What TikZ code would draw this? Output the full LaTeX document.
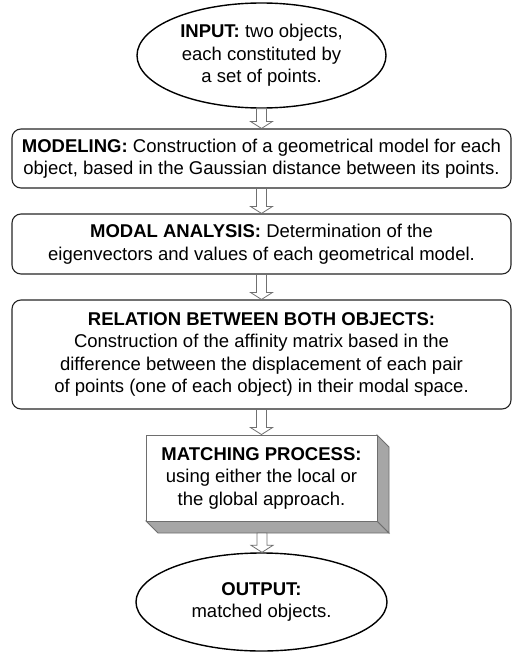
\documentclass[tikz,border=0pt]{standalone}
\usepackage{fontspec}
\setmainfont{Liberation Sans}
\usetikzlibrary{shapes.geometric,calc}
\definecolor{arrowgray}{HTML}{707070}
\definecolor{sidegray}{HTML}{A6A6A6}
\definecolor{edgegray}{HTML}{6E6E6E}
\tikzset{
  txt/.style={align=center, font=\fontsize{18.5}{22.5}\selectfont, inner sep=0pt, text=black},
  oval/.style={txt, ellipse, draw=black, line width=1.4pt, fill=white},
  roundbox/.style={txt, rectangle, rounded corners=9pt, draw=black!85, line width=1.1pt, fill=white, minimum width=499pt},
  frontface/.style={txt, rectangle, draw=edgegray, line width=0.9pt, fill=white},
}
\newcommand\blockarr[2]{%
  \path let \p1=(#1), \p2=(#2) in
    [draw=arrowgray, line width=0.8pt, fill=white]
    (\x1-5pt,\y1) -- (\x1-5pt,\y2+7pt) -- (\x1-11pt,\y2+7pt) -- (\x1,\y2)
    -- (\x1+11pt,\y2+7pt) -- (\x1+5pt,\y2+7pt) -- (\x1+5pt,\y1) -- cycle;}
\begin{document}
\begin{tikzpicture}[x=1pt,y=-1pt]
\useasboundingbox (0,0) rectangle (514,653);
% input
\node[oval, minimum width=249pt, minimum height=105pt] (in) at (261.5,55.5)
  {\textbf{INPUT:} two objects,\\each constituted by\\a set of points.};
% modeling
\node[roundbox, minimum height=59pt] (model) at (261.5,158.5)
  {\textbf{MODELING:} Construction of a geometrical model for each\\object, based in the Gaussian distance between its points.};
% modal
\node[roundbox, minimum height=60pt] (modal) at (261.5,244)
  {\textbf{MODAL ANALYSIS:} Determination of the\\eigenvectors and values of each geometrical model.};
% relation
\node[roundbox, minimum height=109pt] (rel) at (261.5,354.5)
  {\textbf{RELATION BETWEEN BOTH OBJECTS:}\\Construction of the affinity matrix based in the\\difference between the displacement of each pair\\of points (one of each object) in their modal space.};
% matching 3D box
\fill[sidegray, draw=edgegray, line width=0.9pt] (146,521) -- (158,533) -- (389,533) -- (377,521) -- cycle;
\fill[sidegray, draw=edgegray, line width=0.9pt] (377,435) -- (389,447) -- (389,533) -- (377,521) -- cycle;
\node[frontface, minimum width=231pt, minimum height=86pt] (match) at (261.5,478)
  {\textbf{MATCHING PROCESS:}\\using either the local or\\the global approach.};
\coordinate (matchbot) at (262,533);
% output
\node[oval, minimum width=251pt, minimum height=98pt] (out) at (261.5,602)
  {\textbf{OUTPUT:}\\matched objects.};
% arrows
\blockarr{in.south}{model.north}
\blockarr{model.south}{modal.north}
\blockarr{modal.south}{rel.north}
\blockarr{rel.south}{match.north}
\blockarr{matchbot}{out.north}
\end{tikzpicture}
\end{document}
